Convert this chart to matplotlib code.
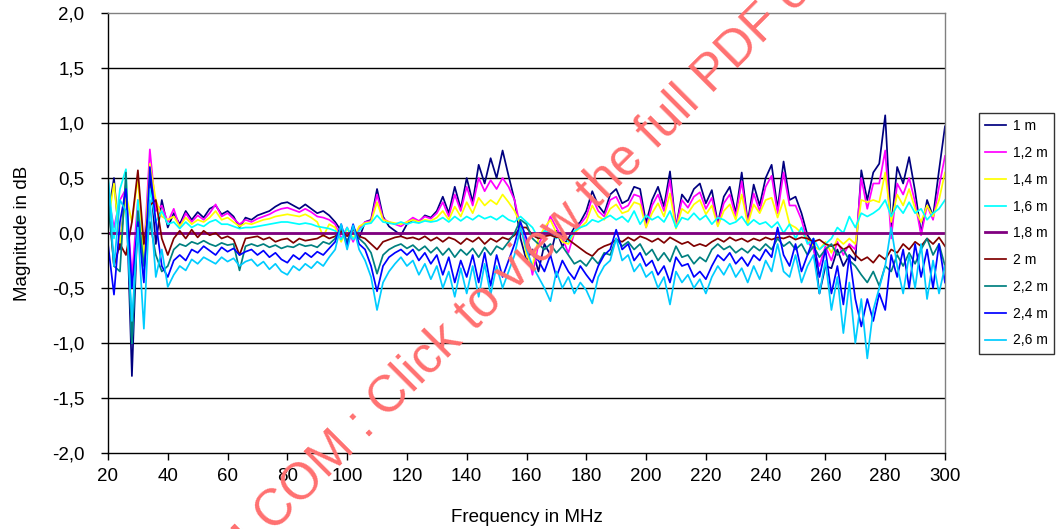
import matplotlib
matplotlib.use("Agg")
import matplotlib.pyplot as plt
import numpy as np
from matplotlib.ticker import FuncFormatter

# frequency grid in MHz (2 MHz steps, 20..300)
freq = np.arange(20, 302, 2)

# magnitude deviation in dB, one row = 20 MHz
mag_1m = [
    0.15, 0.50, -0.15, 0.45, -1.30, 0.20, -0.35, 0.55, -0.10, 0.30,
    0.05, 0.18, 0.08, 0.20, 0.12, 0.19, 0.14, 0.22, 0.25, 0.17,
    0.20, 0.15, 0.05, 0.14, 0.12, 0.16, 0.18, 0.20, 0.24, 0.27,
    0.28, 0.25, 0.22, 0.26, 0.22, 0.18, 0.20, 0.16, 0.10, 0.02,
    -0.08, 0.05, -0.05, 0.10, 0.12, 0.40, 0.15, 0.06, 0.02, -0.02,
    0.08, 0.12, 0.10, 0.16, 0.14, 0.20, 0.33, 0.18, 0.42, 0.22,
    0.50, 0.28, 0.62, 0.45, 0.68, 0.50, 0.75, 0.52, 0.30, -0.05,
    -0.25, -0.15, -0.35, -0.10, -0.20, 0.02, -0.12, -0.05, 0.05, 0.10,
    0.20, 0.38, 0.25, 0.18, 0.35, 0.40, 0.27, 0.30, 0.42, 0.40,
    0.09, 0.30, 0.42, 0.24, 0.56, 0.05, 0.35, 0.28, 0.40, 0.45,
    0.27, 0.39, 0.09, 0.33, 0.42, 0.18, 0.55, 0.10, 0.44, 0.25,
    0.50, 0.62, 0.22, 0.65, 0.30, 0.33, 0.18, -0.02, -0.10, -0.55,
    -0.30, -0.32, -0.15, -0.30, -0.20, -0.25, 0.57, 0.30, 0.55, 0.63,
    1.07, 0.05, 0.60, 0.45, 0.69, 0.38, 0.00, 0.30, 0.15, 0.57,
    0.97,
]
mag_1_2m = [
    0.35, 0.05, 0.30, 0.40, -0.40, 0.30, -0.20, 0.76, 0.20, 0.25,
    0.10, 0.22, 0.05, 0.18, 0.10, 0.16, 0.12, 0.18, 0.26, 0.15,
    0.18, 0.13, 0.08, 0.12, 0.10, 0.13, 0.15, 0.17, 0.20, 0.22,
    0.23, 0.21, 0.19, 0.22, 0.19, 0.15, 0.14, 0.12, 0.08, -0.05,
    0.05, -0.08, 0.04, 0.10, 0.11, 0.35, 0.13, 0.10, 0.08, 0.06,
    0.10, 0.14, 0.11, 0.15, 0.13, 0.18, 0.28, 0.15, 0.35, 0.20,
    0.42, 0.25, 0.50, 0.38, 0.48, 0.40, 0.50, 0.42, 0.30, 0.05,
    -0.10, -0.38, -0.10, 0.00, 0.15, 0.05, -0.05, -0.18, 0.00, 0.08,
    0.15, 0.32, 0.20, 0.15, 0.30, 0.33, 0.22, 0.25, 0.35, 0.33,
    0.05, 0.25, 0.35, 0.20, 0.48, 0.05, 0.30, 0.23, 0.33, 0.37,
    0.22, 0.32, 0.07, 0.27, 0.35, 0.15, 0.47, 0.08, 0.36, 0.20,
    0.42, 0.52, 0.18, 0.55, 0.25, 0.25, 0.12, -0.08, -0.15, -0.30,
    -0.12, -0.25, -0.08, -0.20, -0.10, -0.15, 0.50, 0.22, 0.45, 0.45,
    0.75, -0.05, 0.45, 0.35, 0.50, 0.28, -0.02, 0.25, 0.12, 0.42,
    0.70,
]
mag_1_4m = [
    0.10, 0.45, -0.10, 0.35, 0.10, 0.50, -0.25, 0.63, 0.30, 0.15,
    0.12, 0.15, 0.06, 0.14, 0.08, 0.12, 0.10, 0.14, 0.20, 0.12,
    0.14, 0.10, 0.06, 0.09, 0.08, 0.10, 0.12, 0.13, 0.15, 0.16,
    0.17, 0.16, 0.15, 0.17, 0.14, 0.10, -0.03, 0.08, 0.05, -0.08,
    0.04, -0.05, 0.06, 0.09, 0.10, 0.28, 0.12, 0.10, 0.09, 0.08,
    0.10, 0.12, 0.10, 0.12, 0.11, 0.14, 0.20, 0.12, 0.24, 0.15,
    0.28, 0.18, 0.32, 0.25, 0.30, 0.26, 0.35, 0.28, 0.20, 0.08,
    -0.20, -0.30, -0.05, 0.05, 0.12, 0.00, -0.08, -0.10, 0.00, 0.05,
    0.10, 0.25, 0.15, 0.12, 0.22, 0.26, 0.18, 0.20, 0.28, 0.26,
    0.05, 0.18, 0.27, 0.15, 0.36, 0.04, 0.22, 0.18, 0.26, 0.30,
    0.17, 0.25, 0.06, 0.20, 0.26, 0.12, 0.35, 0.08, 0.26, 0.18,
    0.30, 0.32, 0.14, 0.30, 0.08, 0.05, 0.00, -0.05, -0.12, -0.15,
    -0.08, -0.18, -0.05, -0.10, -0.05, -0.10, 0.30, 0.28, 0.30, 0.28,
    0.55, 0.10, 0.35, 0.25, 0.40, 0.22, 0.10, 0.25, 0.15, 0.30,
    0.55,
]
mag_1_6m = [
    0.50, -0.05, 0.40, 0.58, -1.00, 0.30, -0.40, 0.40, 0.10, 0.20,
    0.08, 0.10, 0.04, 0.10, 0.05, 0.08, 0.06, 0.10, 0.12, 0.08,
    0.08, 0.06, 0.04, 0.05, 0.05, 0.06, 0.07, 0.08, 0.09, 0.10,
    0.10, 0.09, 0.08, 0.09, 0.08, 0.06, 0.05, 0.04, 0.02, -0.06,
    0.05, -0.06, 0.02, 0.08, 0.09, 0.16, 0.10, 0.09, 0.08, 0.10,
    0.08, 0.10, 0.09, 0.11, 0.10, 0.11, 0.14, 0.10, 0.15, 0.11,
    0.15, 0.12, 0.16, 0.13, 0.15, 0.12, 0.16, 0.12, 0.10, 0.15,
    0.10, 0.05, -0.05, 0.02, 0.00, -0.05, 0.02, -0.08, 0.02, 0.05,
    0.07, 0.12, 0.10, 0.13, 0.16, 0.12, 0.15, 0.10, 0.20, 0.08,
    0.16, 0.12, 0.15, 0.10, 0.20, 0.05, 0.14, 0.12, 0.18, 0.12,
    0.16, 0.08, 0.14, 0.12, 0.08, 0.10, 0.15, 0.07, 0.12, 0.08,
    0.10, 0.05, 0.10, 0.00, 0.08, -0.05, 0.05, -0.10, -0.05, -0.15,
    -0.10, -0.05, 0.05, 0.00, 0.15, 0.05, 0.18, 0.15, 0.18, 0.22,
    0.30, 0.15, 0.25, 0.18, 0.28, 0.18, 0.22, 0.12, 0.18, 0.22,
    0.30,
]
# 1,8 m is the reference distance -> flat 0 dB
mag_1_8m = [
    0, 0, 0, 0, 0, 0, 0, 0, 0, 0,
    0, 0, 0, 0, 0, 0, 0, 0, 0, 0,
    0, 0, 0, 0, 0, 0, 0, 0, 0, 0,
    0, 0, 0, 0, 0, 0, 0, 0, 0, 0,
    0, 0, 0, 0, 0, 0, 0, 0, 0, 0,
    0, 0, 0, 0, 0, 0, 0, 0, 0, 0,
    0, 0, 0, 0, 0, 0, 0, 0, 0, 0,
    0, 0, 0, 0, 0, 0, 0, 0, 0, 0,
    0, 0, 0, 0, 0, 0, 0, 0, 0, 0,
    0, 0, 0, 0, 0, 0, 0, 0, 0, 0,
    0, 0, 0, 0, 0, 0, 0, 0, 0, 0,
    0, 0, 0, 0, 0, 0, 0, 0, 0, 0,
    0, 0, 0, 0, 0, 0, 0, 0, 0, 0,
    0, 0, 0, 0, 0, 0, 0, 0, 0, 0,
    0,
]
mag_2m = [
    0.35, -0.30, -0.10, -0.20, 0.10, 0.57, -0.10, 0.25, 0.30, -0.05,
    -0.20, -0.05, 0.02, -0.05, 0.03, -0.04, 0.02, -0.02, 0.00, -0.05,
    -0.03, -0.06, -0.20, -0.05, -0.04, -0.03, -0.06, -0.04, -0.08, -0.06,
    -0.05, -0.09, -0.05, -0.07, -0.06, -0.05, -0.02, -0.05, -0.03, 0.02,
    -0.03, 0.03, -0.03, -0.05, -0.10, -0.15, -0.08, -0.06, -0.04, -0.03,
    -0.05, -0.04, -0.06, -0.03, -0.07, -0.04, -0.08, -0.04, -0.06, -0.10,
    -0.05, -0.08, -0.04, -0.10, -0.05, -0.08, -0.04, -0.06, -0.02, 0.05,
    0.05, -0.02, -0.05, -0.03, -0.02, -0.04, -0.03, -0.06, -0.10, -0.14,
    -0.18, -0.21, -0.15, -0.12, -0.10, -0.06, -0.08, -0.04, -0.07, -0.03,
    -0.05, -0.08, -0.05, -0.09, -0.04, -0.07, -0.10, -0.08, -0.12, -0.10,
    -0.12, -0.08, -0.05, -0.08, -0.04, -0.07, -0.05, -0.08, -0.05, -0.07,
    -0.04, -0.06, -0.04, -0.05, -0.03, -0.06, -0.04, -0.05, -0.08, -0.06,
    -0.10, -0.12, -0.10, -0.15, -0.12, -0.20, -0.25, -0.22, -0.27, -0.20,
    -0.24, -0.15, -0.18, -0.10, -0.15, -0.08, -0.12, -0.05, -0.10, -0.04,
    -0.12,
]
mag_2_2m = [
    0.30, -0.30, -0.35, 0.55, -1.00, 0.20, -0.30, 0.10, -0.20, -0.35,
    -0.30, -0.15, -0.10, -0.12, -0.08, -0.10, -0.07, -0.10, -0.12, -0.09,
    -0.11, -0.10, -0.34, -0.12, -0.10, -0.12, -0.10, -0.13, -0.11, -0.14,
    -0.12, -0.13, -0.10, -0.12, -0.11, -0.13, -0.08, -0.10, -0.05, 0.05,
    -0.08, 0.05, -0.05, -0.10, -0.18, -0.37, -0.20, -0.15, -0.12, -0.10,
    -0.14, -0.11, -0.16, -0.12, -0.18, -0.13, -0.20, -0.14, -0.22, -0.15,
    -0.20, -0.14, -0.22, -0.13, -0.20, -0.12, -0.15, -0.08, 0.00, 0.12,
    0.08, -0.05, -0.10, -0.15, -0.10, -0.18, -0.12, -0.20, -0.28, -0.25,
    -0.30, -0.22, -0.28, -0.18, -0.20, -0.05, -0.12, -0.08, -0.15, -0.10,
    -0.20, -0.15, -0.25, -0.18, -0.26, -0.12, -0.22, -0.20, -0.28, -0.22,
    -0.26, -0.15, -0.10, -0.15, -0.12, -0.18, -0.14, -0.18, -0.12, -0.16,
    -0.10, -0.15, -0.05, -0.12, -0.08, -0.15, -0.10, -0.20, -0.12, -0.22,
    -0.15, -0.10, -0.20, -0.15, -0.25, -0.30, -0.38, -0.45, -0.35, -0.48,
    -0.30, -0.35, -0.20, -0.30, -0.18, -0.28, -0.15, -0.05, -0.20, -0.10,
    -0.30,
]
mag_2_4m = [
    -0.10, -0.56, 0.10, 0.40, -0.50, 0.10, -0.45, 0.60, 0.10, -0.30,
    -0.40, -0.25, -0.20, -0.25, -0.15, -0.18, -0.12, -0.16, -0.20, -0.13,
    -0.17, -0.14, -0.20, -0.17, -0.15, -0.20, -0.16, -0.22, -0.18, -0.24,
    -0.27, -0.20, -0.24, -0.18, -0.22, -0.17, -0.20, -0.14, -0.08, 0.08,
    -0.12, 0.08, -0.10, -0.15, -0.30, -0.53, -0.30, -0.22, -0.18, -0.15,
    -0.20, -0.15, -0.25, -0.18, -0.28, -0.20, -0.38, -0.22, -0.45, -0.25,
    -0.40, -0.20, -0.45, -0.18, -0.48, -0.20, -0.40, -0.25, -0.10, 0.10,
    -0.05, -0.20, -0.25, -0.35, -0.20, -0.40, -0.25, -0.35, -0.42, -0.30,
    -0.38, -0.45, -0.30, -0.20, -0.15, 0.03, -0.15, -0.10, -0.25, -0.18,
    -0.30, -0.25, -0.38, -0.30, -0.45, -0.22, -0.30, -0.28, -0.40, -0.35,
    -0.42, -0.30, -0.20, -0.25, -0.18, -0.28, -0.22, -0.30, -0.20, -0.25,
    -0.15, -0.22, 0.05, -0.20, -0.30, -0.10, -0.35, -0.20, -0.05, -0.40,
    -0.15, -0.55, -0.30, -0.65, -0.20, -0.60, -0.85, -0.60, -0.80, -0.55,
    -0.70, -0.20, -0.40, -0.15, -0.50, -0.10, -0.40, -0.15, -0.50, -0.10,
    -0.45,
]
mag_2_6m = [
    0.52, -0.30, 0.30, 0.20, -0.80, 0.05, -0.87, 0.30, -0.40, -0.15,
    -0.49, -0.38, -0.30, -0.34, -0.24, -0.28, -0.22, -0.25, -0.28, -0.22,
    -0.26, -0.23, -0.30, -0.26, -0.24, -0.30, -0.26, -0.33, -0.28, -0.35,
    -0.38, -0.30, -0.34, -0.28, -0.32, -0.26, -0.30, -0.22, -0.15, 0.08,
    -0.15, 0.07, -0.15, -0.25, -0.40, -0.70, -0.45, -0.35, -0.28, -0.22,
    -0.30, -0.25, -0.38, -0.28, -0.42, -0.30, -0.50, -0.35, -0.58, -0.32,
    -0.55, -0.30, -0.58, -0.28, -0.56, -0.30, -0.50, -0.35, -0.20, 0.05,
    -0.15, -0.30, -0.40, -0.50, -0.62, -0.35, -0.50, -0.40, -0.55, -0.45,
    -0.52, -0.64, -0.40, -0.30, -0.25, -0.05, -0.25, -0.20, -0.35, -0.28,
    -0.40, -0.35, -0.50, -0.40, -0.65, -0.35, -0.45, -0.38, -0.50, -0.42,
    -0.55, -0.40, -0.30, -0.38, -0.28, -0.40, -0.32, -0.45, -0.30, -0.42,
    -0.25, -0.35, -0.10, -0.35, -0.40, -0.20, -0.45, -0.30, -0.20, -0.55,
    -0.25, -0.70, -0.40, -0.91, -0.45, -1.00, -0.60, -1.14, -0.70, -0.50,
    -0.30, 0.05, -0.30, -0.55, -0.20, -0.50, -0.10, -0.60, -0.25, -0.55,
    -0.30,
]

labels = ["1 m", "1,2 m", "1,4 m", "1,6 m", "1,8 m", "2 m", "2,2 m", "2,4 m", "2,6 m"]
colors = ["#000080", "#ff00ff", "#ffff00", "#00ffff", "#800080",
          "#800000", "#008080", "#0000ff", "#00ccff"]
series = [mag_1m, mag_1_2m, mag_1_4m, mag_1_6m, mag_1_8m,
          mag_2m, mag_2_2m, mag_2_4m, mag_2_6m]

plt.rcParams["font.family"] = ["Liberation Sans", "DejaVu Sans"]

fig = plt.figure(figsize=(10.59, 5.29), dpi=100)
ax = fig.add_axes([108 / 1059, 1 - 453 / 529, 837 / 1059, 440 / 529])

for yv in [-1.5, -1.0, -0.5, 0.0, 0.5, 1.0, 1.5]:
    ax.axhline(yv, color="black", lw=1.0, zorder=0)

for vals, lab, col in zip(series, labels, colors):
    lw = 2.0 if lab == "1,8 m" else 1.25
    ax.plot(freq, vals, color=col, lw=lw, label=lab)

ax.set_xlim(20, 300)
ax.set_ylim(-2, 2)
ax.set_xticks(np.arange(20, 301, 20))
ax.set_yticks(np.arange(-2.0, 2.01, 0.5))
ax.yaxis.set_major_formatter(FuncFormatter(lambda v, p: f"{v:.1f}".replace(".", ",").replace("-0,0", "0,0")))

for side in ["left", "bottom"]:
    ax.spines[side].set_color("black")
    ax.spines[side].set_linewidth(1.0)
for side in ["top", "right"]:
    ax.spines[side].set_color("#808080")
    ax.spines[side].set_linewidth(1.0)

ax.tick_params(axis="both", direction="out", length=5, width=1, labelsize=13.5)
ax.tick_params(axis="x", pad=6)
ax.tick_params(axis="y", pad=12)

ax.set_xlabel("Frequency in MHz", fontsize=13.5)
ax.set_ylabel("Magnitude in dB", fontsize=13.5)
ax.xaxis.set_label_coords(0.5, -0.128)
ax.yaxis.set_label_coords(-0.092, 0.5)

leg = fig.legend(loc="upper left", bbox_to_anchor=(979 / 1059, 1 - 113 / 529),
                 frameon=True, fancybox=False, edgecolor="black", fontsize=10,
                 handlelength=1.5, labelspacing=0.92, borderpad=0.45,
                 handletextpad=0.5, borderaxespad=0)
leg.get_frame().set_linewidth(1.0)

# red watermark across the chart
wm_x, wm_y = 273 / 1059, 1 - 533 / 529
fig.text(wm_x, wm_y, "IECNORM.", rotation=45, rotation_mode="anchor",
         ha="right", va="baseline", fontsize=36.5, color="#ff7070", zorder=10)
fig.text(wm_x, wm_y, "COM : Click to view the full PDF of IEC 61000-4-20",
         rotation=45, rotation_mode="anchor", ha="left", va="baseline",
         fontsize=36.5, color="#ff7070", zorder=10)

fig.savefig("out.png", dpi=100)
